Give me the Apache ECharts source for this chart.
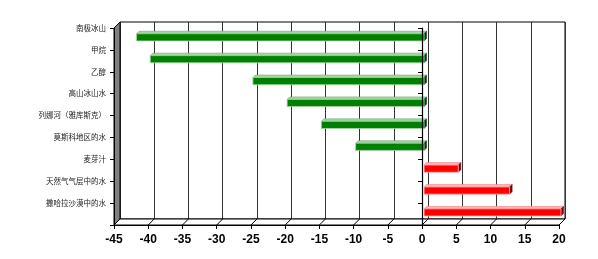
<!DOCTYPE html>
<html>
<head>
<meta charset="utf-8">
<script src="https://cdn.jsdelivr.net/npm/echarts@6/dist/echarts.min.js"></script>
<style>
html,body{margin:0;padding:0;background:#fff;}
#c{width:598px;height:259px;}
</style>
</head>
<body>
<div id="c"></div>
<script>
// ---- data ----
var categories = ['南极冰山', '甲烷', '乙醇', '高山冰山水', '列娜河（雅库斯克）', '莫斯科地区的水', '麦芽汁', '天然气气层中的水', '撒哈拉沙漠中的水'];
var values = [-42, -40, -25, -20, -15, -10, 5, 12.5, 20];
var xMin = -45, xMax = 20, xStep = 5;

// ---- layout (decoration) ----
var W = 598, H = 259;
var F = {left: 114, right: 39, top: 28, bottom: 34};   // front plane
var D = 6;                                               // 3D depth offset
var B = {left: F.left + D, right: F.right - D, top: F.top - D, bottom: F.bottom + D}; // back plane

var chart = echarts.init(document.getElementById('c'), null, {renderer: 'canvas'});

function renderBar(params, api) {
  var v = api.value(0), c = api.value(1);
  var p0 = api.coord([0, c]), p1 = api.coord([v, c]);
  var cy = p0[1];
  var xa = Math.min(p0[0], p1[0]) + 2, xb = Math.max(p0[0], p1[0]) + 2;
  var top = cy - 5.2, bot = cy + 2, d = 2.5;
  var neg = v < 0;
  var front = neg ? '#008000' : '#ff0000';
  var light = neg ? '#a8d4a8' : '#ffb4b4';
  var edge = neg ? '#6fa86f' : '#e08a8a';
  var dark = neg ? '#003a00' : '#7a0000';
  return {
    type: 'group',
    children: [
      {type: 'polygon', shape: {points: [[xa, top], [xa + d, top - d], [xb + d, top - d], [xb, top]]},
        style: {fill: light, stroke: edge, lineWidth: 0.6}},
      {type: 'polygon', shape: {points: [[xb, top], [xb + d, top - d], [xb + d, bot - d], [xb, bot]]},
        style: {fill: dark, stroke: dark, lineWidth: 0.5}},
      {type: 'rect', shape: {x: xa, y: top, width: xb - xa, height: bot - top},
        style: {fill: front, stroke: light, lineWidth: 0.8}}
    ]
  };
}

var option = {
  animation: false,
  backgroundColor: '#fff',
  grid: [
    {left: F.left, right: F.right, top: F.top, bottom: F.bottom, show: false, containLabel: false},
    {left: B.left, right: B.right, top: B.top, bottom: B.bottom, show: true, borderColor: '#000', borderWidth: 1, backgroundColor: '#fff', z: -1}
  ],
  xAxis: [
    {type: 'value', gridIndex: 0, min: xMin, max: xMax, interval: xStep, z: 5,
      axisLine: {show: true, lineStyle: {color: '#000', width: 1}},
      axisTick: {show: true, length: 4, lineStyle: {color: '#000', width: 1}},
      splitLine: {show: false},
      axisLabel: {show: true, color: '#000', fontFamily: 'Liberation Sans, Arial', fontWeight: 'bold', fontSize: 12, margin: 9}},
    {type: 'value', gridIndex: 1, min: xMin, max: xMax, interval: xStep, z: -1,
      axisLine: {show: false}, axisTick: {show: false}, axisLabel: {show: false},
      splitLine: {show: true, lineStyle: {color: '#333', width: 1}}}
  ],
  yAxis: [
    {type: 'category', gridIndex: 0, data: categories, inverse: true, position: 'left', z: 5,
      axisLine: {show: true, onZero: false, lineStyle: {color: '#000', width: 1}},
      axisTick: {show: true, length: 4, alignWithLabel: false, lineStyle: {color: '#000'}},
      splitLine: {show: false},
      axisLabel: {show: true, color: '#222', fontFamily: 'Noto Sans CJK SC', fontSize: 7.5, margin: 8,
        verticalAlign: 'bottom', lineHeight: 22}},
    {type: 'category', gridIndex: 0, data: categories, inverse: true, position: 'left', z: 10,
      axisLine: {show: true, onZero: true, lineStyle: {color: '#000', width: 1.2}},
      axisTick: {show: true, length: 4, alignWithLabel: false, lineStyle: {color: '#000'}},
      axisLabel: {show: false}, splitLine: {show: false}},
    {type: 'category', gridIndex: 1, data: categories, inverse: true, show: false}
  ],
  series: [{
    type: 'custom',
    xAxisIndex: 0, yAxisIndex: 0,
    renderItem: renderBar,
    z: 6,
    data: values.map(function (v, i) { return [v, i]; })
  }]
};
chart.setOption(option);

// 3D wall, floor and floor diagonals (decoration)
var fb = H - F.bottom, bb = H - B.bottom;
var fl = F.left, fr = W - F.right, br = W - B.right;
var gfx = [
  {type: 'polygon', z: 1, shape: {points: [[fl, F.top], [fl + D, B.top], [fl + D, bb], [fl, fb]]},
    style: {fill: '#808080', stroke: '#000', lineWidth: 1}},
  {type: 'polygon', z: 1, shape: {points: [[fl, fb], [fl + D, bb], [br, bb], [fr, fb]]},
    style: {fill: '#fff', stroke: '#000', lineWidth: 1}}
];
for (var t = xMin; t <= xMax; t += xStep) {
  var px = chart.convertToPixel({xAxisIndex: 0}, t);
  gfx.push({type: 'line', z: 2, shape: {x1: px, y1: fb, x2: px + D, y2: bb},
    style: {stroke: '#000', lineWidth: 1}});
}
chart.setOption({graphic: gfx});
</script>
</body>
</html>
